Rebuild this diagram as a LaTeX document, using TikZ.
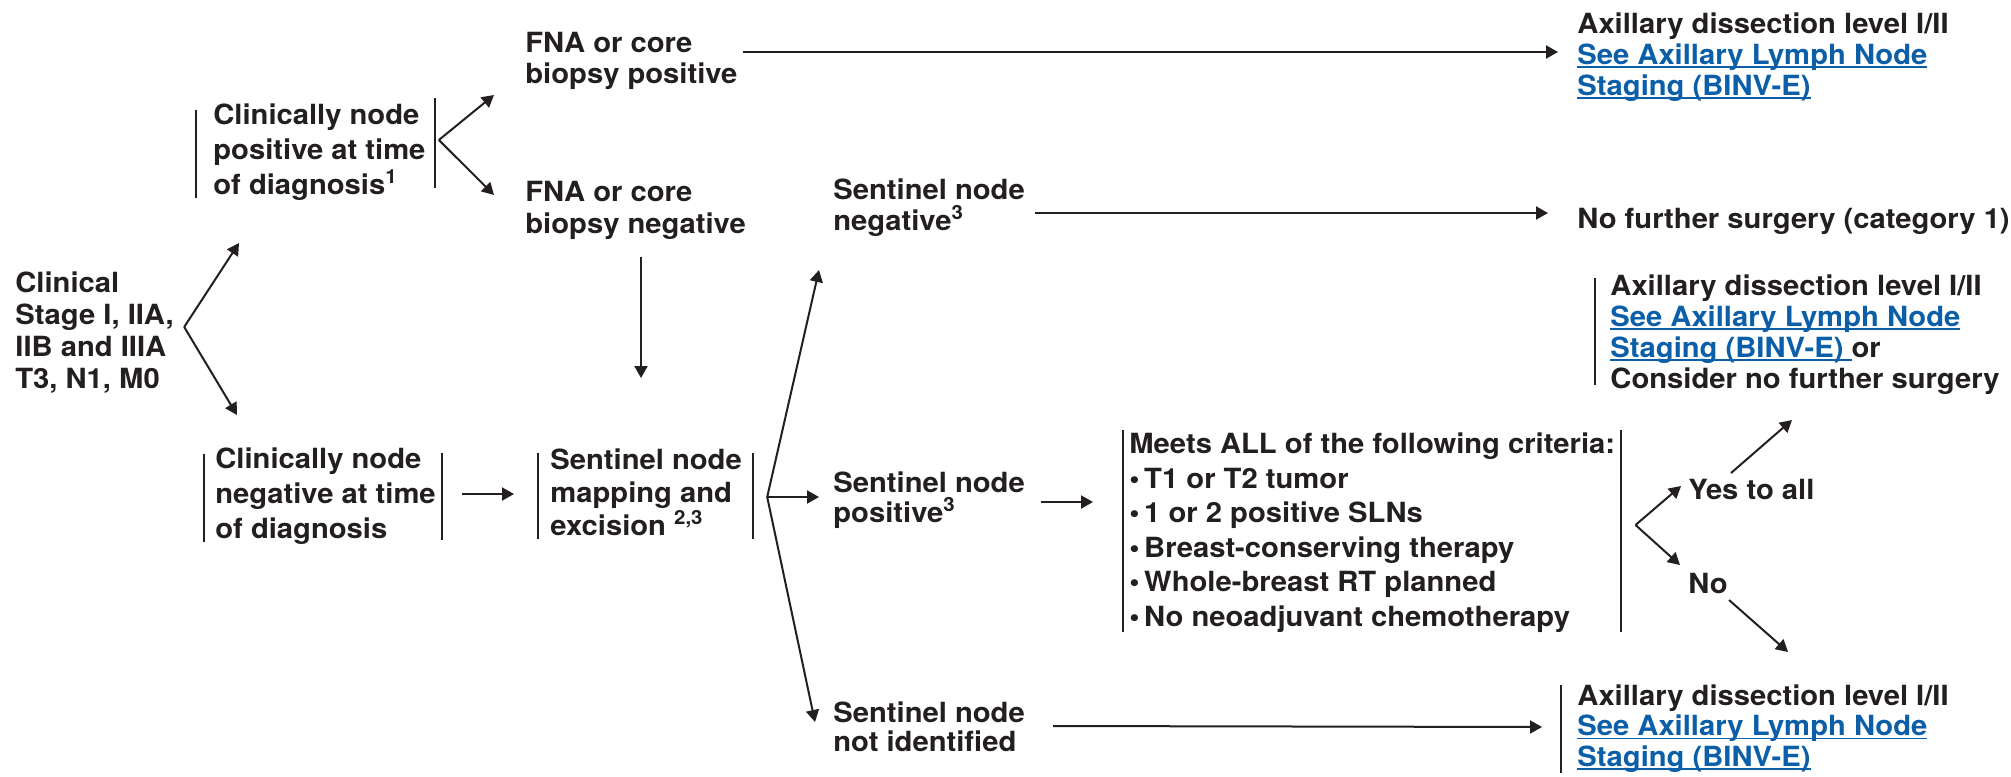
\documentclass[tikz,border=0pt]{standalone}
\usepackage{fontspec}
\setmainfont{TeX Gyre Heros}[FakeStretch=1.05]
\usetikzlibrary{calc,arrows.meta}
\definecolor{inkcolor}{HTML}{231F20}
\definecolor{linkcolor}{HTML}{0B5EA8}
\newsavebox{\lnkbox}
\newcommand{\lnk}[1]{{\color{linkcolor}\sbox{\lnkbox}{#1}\rlap{\rule[-1.8pt]{\wd\lnkbox}{0.8pt}}\usebox{\lnkbox}}}
\tikzset{
  txt/.style={anchor=base west, inner sep=0pt, align=left, text=inkcolor,
    font=\bfseries\fontsize{13.9}{#1}\selectfont},
  txt/.default=15.5,
  vbar/.style={draw=inkcolor, line width=1pt},
  arr/.style={draw=inkcolor, line width=1pt, -{Triangle[length=6pt,width=6.5pt]}}
}

\begin{document}
\begin{tikzpicture}[x=0.5pt,y=-0.5pt]
\useasboundingbox (0,0) rectangle (2011,776);

% left column (nodes sit on the baseline of their last line)
\node[txt=16] (stage) at (15,388) {Clinical\\Stage I, IIA,\\IIB and IIIA\\T3, N1, M0};
\node[txt=17.5] (cnpos) at (213,194) {Clinically node\\positive at time\\of diagnosis\textsuperscript{1}};
\node[txt=17.5] (cnneg) at (215,538) {Clinically node\\negative at time\\of diagnosis};

% biopsy and mapping
\node[txt=15.5] (fnapos) at (525,83) {FNA or core\\biopsy positive};
\node[txt=16] (fnaneg) at (525,233) {FNA or core\\biopsy negative};
\node[txt=16.5] (slnmap) at (550,535) {Sentinel node\\mapping and\\excision \textsuperscript{2,3}};

% sentinel node results
\node[txt] (slnneg) at (833,230) {Sentinel node\\negative\textsuperscript{3}};
\node[txt=15] (slnpos) at (833,522) {Sentinel node\\positive\textsuperscript{3}};
\node[txt=14.5] (slnnid) at (833,751) {Sentinel node\\not identified};

\node[txt=17.25] (crit) at (1129,626) {Meets ALL of the following criteria:\\
  \textbullet\,T1 or T2 tumor\\
  \textbullet\,1 or 2 positive SLNs\\
  \textbullet\,Breast-conserving therapy\\
  \textbullet\,Whole-breast RT planned\\
  \textbullet\,No neoadjuvant chemotherapy};
\node[txt] (yes) at (1688,499) {Yes to all};
\node[txt] (no) at (1688,593) {No};

% right column
\node[txt] (axtop) at (1577,95) {Axillary dissection level I/II\\\lnk{See Axillary Lymph Node}\\\lnk{Staging (BINV-E)}};
\node[txt] (nofurther) at (1577,228) {No further surgery (category 1)};
\node[txt] (axmid) at (1610,388) {Axillary dissection level I/II\\\lnk{See Axillary Lymph Node}\\\lnk{Staging (BINV-E)\ }or\\Consider no further surgery};
\node[txt=15.25] (axbot) at (1577,766) {Axillary dissection level I/II\\\lnk{See Axillary Lymph Node}\\\lnk{Staging (BINV-E)}};

% bars
\draw[vbar] ($(cnpos.base west)+(-17,-84)$) -- ($(cnpos.base west)+(-17,4)$);
\draw[vbar] ($(cnpos.base east)+(9,-96)$) -- ($(cnpos.base east)+(9,-6)$);
\draw[vbar] ($(cnneg.base west)+(-11,-84)$) -- ($(cnneg.base west)+(-11,4)$);
\draw[vbar] ($(cnneg.base east)+(6,-85)$) -- ($(cnneg.base east)+(6,2)$);
\draw[vbar] ($(slnmap.base west)+(-12,-82)$) -- ($(slnmap.base west)+(-12,4)$);
\draw[vbar] ($(slnmap.base east)+(11,-82)$) -- ($(slnmap.base east)+(11,4)$);
\draw[vbar] ($(crit.base west)+(-6,-196)$) -- ($(crit.base west)+(-6,6)$);
\draw[vbar] ($(crit.base east)+(5,-196)$) -- ($(crit.base east)+(5,6)$);
\draw[vbar] ($(axmid.base west)+(-15,-110)$) -- ($(axmid.base west)+(-15,-3)$);
\draw[vbar] ($(axbot.base west)+(-16,-81)$) -- ($(axbot.base west)+(-16,7)$);

% arrows
\coordinate (sf) at ($(stage.base east)+(10,-61)$);
\draw[arr] (sf) -- ($(cnpos.base west)+(26,49)$);
\draw[arr] (sf) -- ($(cnneg.base west)+(22,-123)$);

\coordinate (pf) at ($(cnpos.base east)+(13,-54)$);
\draw[arr] (pf) -- ($(fnapos.base west)+(-31,12)$);
\draw[arr] (pf) -- ($(fnaneg.base west)+(-31,-38)$);

\draw[arr] ($(fnapos.base east)+(5,-31)$) -- ($(axtop.base west)+(-19,-43)$);
\draw[arr] ($(fnaneg.base west)+(116,24)$) -- ($(slnmap.base west)+(91,-157)$);
\draw[arr] ($(cnneg.base east)+(26,-44)$) -- ($(slnmap.base west)+(-36,-41)$);

\coordinate (sp) at ($(slnmap.base east)+(25,-38)$);
\draw[arr] (sp) -- ($(slnneg.base west)+(-14,40)$);
\draw[arr] (sp) -- ($(slnpos.base west)+(-14,-25)$);
\draw[arr] (sp) -- ($(slnnid.base west)+(-18,-29)$);

\draw[arr] ($(slnneg.base east)+(10,-17)$) -- ($(nofurther.base west)+(-29,-15)$);
\draw[arr] ($(slnpos.base east)+(16,-20)$) -- ($(crit.base west)+(-36,-124)$);
\draw[arr] ($(slnnid.base east)+(28,-25)$) -- ($(axbot.base west)+(-35,-39)$);

\coordinate (cf) at ($(crit.base east)+(20,-101)$);
\draw[arr] (cf) -- ($(yes.base west)+(-7,-13)$);
\draw[arr] (cf) -- ($(no.base west)+(-8,-28)$);
\draw[arr] ($(yes.base west)+(43,-26)$) -- ($(axmid.base west)+(182,32)$);
\draw[arr] ($(no.base west)+(41,7)$) -- ($(axbot.base west)+(211,-114)$);
\end{tikzpicture}
\end{document}
